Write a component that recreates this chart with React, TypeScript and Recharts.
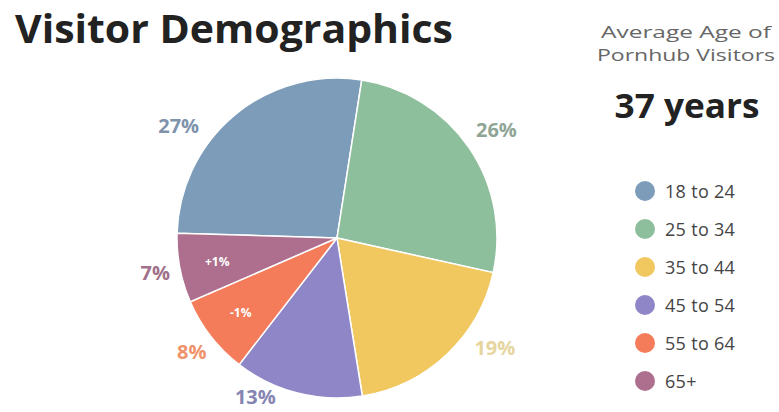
import React from 'react';
import { PieChart, Pie, Cell, Legend } from 'recharts';

const ageGroups = ['18 to 24', '25 to 34', '35 to 44', '45 to 54', '55 to 64', '65+'];
const shares = [27, 26, 19, 13, 8, 7];
const changes = ['', '', '', '', '-1%', '+1%'];

const sliceColors = ['#7c9cb9', '#8ebf9c', '#f1c760', '#8e86c6', '#f47c5a', '#ad6f8d'];
const labelColors = ['#7f93ad', '#8fa596', '#e6d59e', '#8584b3', '#f0926a', '#a1708a'];
const labelAngleShift = [15, 0, 12, -13, 0, 0];
const labelRadius = [194, 193, 192, 178, 184, 185];

const data = ageGroups.map((name, i) => ({ name, value: shares[i], change: changes[i] }));

const RAD = Math.PI / 180;
const FONT = "'Open Sans', 'DejaVu Sans', sans-serif";

const renderLabel = (props: any) => {
  const { cx, cy, midAngle, index } = props;
  const a = midAngle + labelAngleShift[index];
  const r = labelRadius[index];
  const x = cx + r * Math.cos(-a * RAD);
  const y = cy + r * Math.sin(-a * RAD);
  const ix = cx + 122 * Math.cos(-midAngle * RAD);
  const iy = cy + 122 * Math.sin(-midAngle * RAD);
  return (
    <g>
      <text x={x} y={y} textAnchor="middle" dominantBaseline="central" fill={labelColors[index]}
        fontSize={20} fontWeight={700} fontFamily={FONT}>
        {`${shares[index]}%`}
      </text>
      {data[index].change ? (
        <text x={ix} y={iy} textAnchor="middle" dominantBaseline="central" fill="#ffffff"
          fontSize={12} fontWeight={700} fontFamily={FONT}>
          {data[index].change}
        </text>
      ) : null}
    </g>
  );
};

const LegendContent = (props: any) => {
  const payload = props.payload || [];
  return (
    <div>
      {payload.map((p: any, i: number) => {
        const idx = ageGroups.indexOf(p.value);
        return (
          <div key={i} style={{ display: 'flex', alignItems: 'center', height: 38 }}>
            <span style={{ width: 20, height: 20, borderRadius: 10, background: sliceColors[idx], display: 'inline-block', flexShrink: 0 }} />
            <span style={{ marginLeft: 10, fontFamily: FONT, fontSize: 18, color: '#444', letterSpacing: 0.3 }}>{p.value}</span>
          </div>
        );
      })}
    </div>
  );
};

export default function App() {
  return (
    <div style={{ position: 'absolute', left: 0, top: 0, width: 779, height: 412, background: '#fff', overflow: 'hidden' }}>
      <PieChart width={779} height={412} margin={{ top: 0, right: 0, bottom: 0, left: 0 }}>
        <Pie
          data={data}
          dataKey="value"
          nameKey="name"
          cx={337}
          cy={238}
          outerRadius={160}
          startAngle={178.3}
          endAngle={-181.7}
          stroke="#ffffff"
          strokeWidth={1.5}
          label={renderLabel}
          labelLine={false}
          isAnimationActive={false}
        >
          {data.map((d, i) => (
            <Cell key={d.name} fill={sliceColors[i]} />
          ))}
        </Pie>
        <Legend
          content={<LegendContent />}
          wrapperStyle={{ position: 'absolute', left: 635, top: 172, width: 140 }}
        />
      </PieChart>
      <svg width={779} height={412} style={{ position: 'absolute', left: 0, top: 0, pointerEvents: 'none' }}>
        <text x={15} y={43} fontFamily={FONT} fontWeight={700} fontSize={40} fill="#222"
          textLength={438} lengthAdjust="spacingAndGlyphs">Visitor Demographics</text>
        <text x={686} y={38} textAnchor="middle" fontFamily={FONT} fontSize={17} fill="#666"
          textLength={170} lengthAdjust="spacingAndGlyphs">Average Age of</text>
        <text x={686} y={61} textAnchor="middle" fontFamily={FONT} fontSize={17} fill="#666"
          textLength={178} lengthAdjust="spacingAndGlyphs">Pornhub Visitors</text>
        <text x={687} y={118} textAnchor="middle" fontFamily={FONT} fontWeight={700} fontSize={34} fill="#222"
          textLength={145} lengthAdjust="spacingAndGlyphs">37 years</text>
      </svg>
    </div>
  );
}
